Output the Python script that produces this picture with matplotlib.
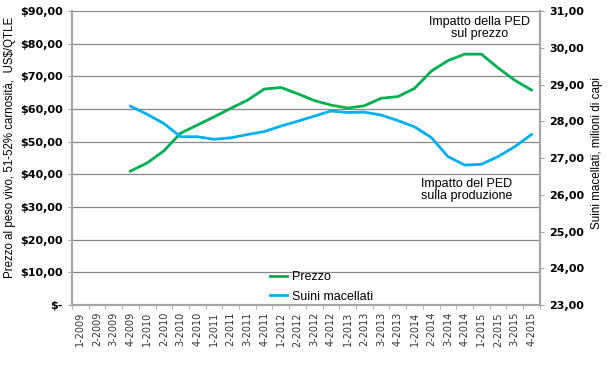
import matplotlib
matplotlib.use("Agg")
import matplotlib.pyplot as plt
import numpy as np

quarters = [f"{q}-{y}" for y in range(2009, 2016) for q in range(1, 5)]

# start at 4-2009 (index 3)
prezzo = [41.0, 43.5, 47.2, 52.6, 55.1, 57.6, 60.2, 62.7, 66.1, 66.6,
          64.7, 62.6, 61.2, 60.3, 61.0, 63.3, 63.8, 66.3, 71.6, 74.8,
          76.8, 76.8, 72.6, 68.8, 65.8]
suini = [28.41, 28.19, 27.94, 27.58, 27.58, 27.51, 27.55, 27.64, 27.72,
         27.87, 28.00, 28.14, 28.28, 28.24, 28.25, 28.17, 28.02, 27.85,
         27.56, 27.04, 26.81, 26.83, 27.04, 27.31, 27.64]
start = 3

left_ticks = np.arange(0, 91, 10)
left_labels = ["$-"] + [f"${v},00" for v in left_ticks[1:]]
right_ticks = np.arange(23, 32, 1)
right_labels = [f"{v},00" for v in right_ticks]

green = "#00b050"
blue = "#00b0f0"
grey = "#a6a6a6"

fig = plt.figure(figsize=(6.1, 3.73), dpi=100)
ax = fig.add_axes([0.118, 0.182, 0.767, 0.7885])
ax2 = ax.twinx()

x = np.arange(start, start + len(prezzo))
l1, = ax.plot(x, prezzo, color=green, lw=2.0, label="Prezzo")
l2, = ax2.plot(x, suini, color=blue, lw=2.0, label="Suini macellati")

ax.set_xlim(-0.5, len(quarters) - 0.5)
ax.set_ylim(0, 90)
ax2.set_ylim(23, 31)

ax.set_yticks(left_ticks)
ax.set_yticklabels(left_labels, fontsize=8, fontweight="bold",
                   family="DejaVu Sans")
ax2.set_yticks(right_ticks)
ax2.set_yticklabels(right_labels, fontsize=8, fontweight="bold",
                    family="DejaVu Sans")

ax.set_xticks(np.arange(len(quarters)))
ax.set_xticklabels(quarters, rotation=90, fontsize=7, family="DejaVu Sans",
                   color="#333333")
ax.set_xticks(np.arange(len(quarters) + 1) - 0.5, minor=True)
ax.tick_params(axis="x", which="major", length=0, pad=5)
ax.tick_params(axis="x", which="minor", length=3, color=grey)
ax.tick_params(axis="y", length=3, color=grey)
ax2.tick_params(axis="y", length=3, color=grey)

ax.grid(axis="y", color="#888888", lw=0.9)
ax.set_axisbelow(True)

for a in (ax, ax2):
    a.spines["top"].set_visible(False)
    for s in ("left", "right", "bottom"):
        a.spines[s].set_color(grey)
        a.spines[s].set_linewidth(1.5)

fig.text(10 / 610, 1 - 147 / 373,
         "Prezzo al peso vivo, 51-52% carnosità,  US$/QTLE",
         rotation=90, ha="center", va="center", fontsize=8.3,
         family="Liberation Sans")
fig.text(597 / 610, 1 - 153 / 373, "Suini macellati, milioni di capi",
         rotation=90, ha="center", va="center", fontsize=8.4,
         family="Liberation Sans")

ax2.text(23.9, 30.54, "Impatto della PED\nsul prezzo", ha="center",
         va="center", fontsize=9, family="Liberation Sans", linespacing=1.0)
ax2.text(23.1, 26.14, "Impatto del PED\nsulla produzione", ha="center",
         va="center", fontsize=9, family="Liberation Sans", linespacing=1.0)

ax2.legend(handles=[l1, l2], loc="lower left", bbox_to_anchor=(0.4, -0.03),
           frameon=False, prop={"family": "Liberation Sans", "size": 9},
           handlelength=1.3, handletextpad=0.4, labelspacing=0.6)

fig.savefig("out.png", dpi=100)
